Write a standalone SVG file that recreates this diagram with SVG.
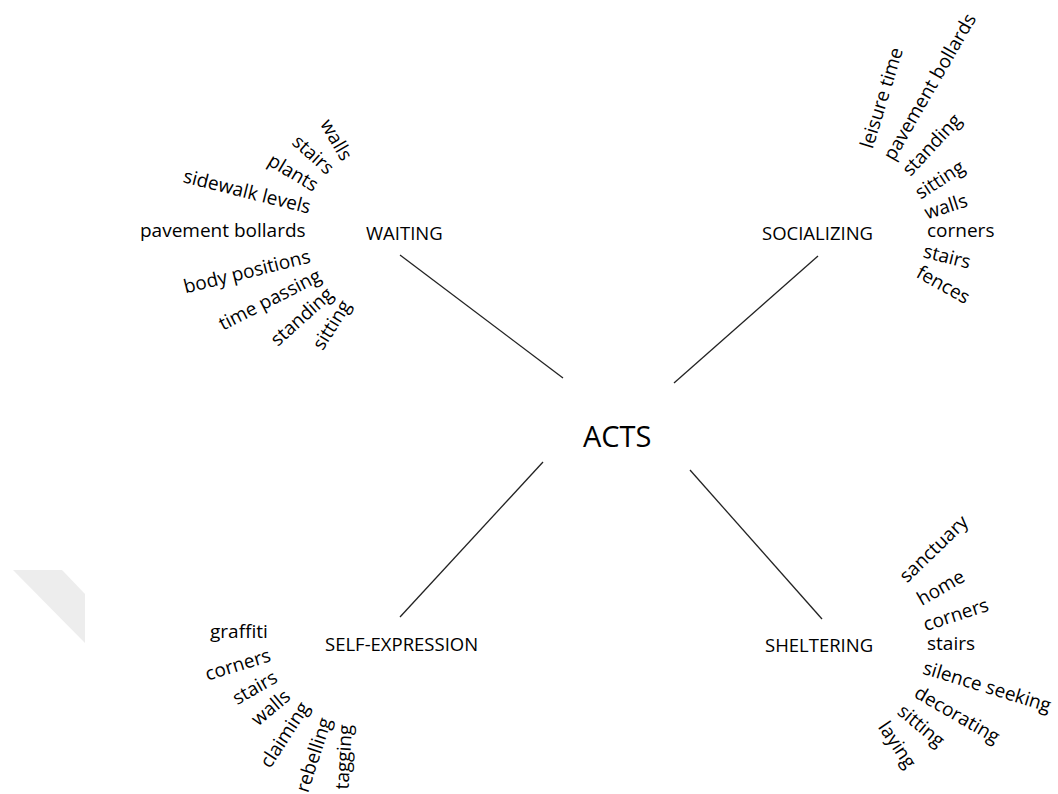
<svg xmlns="http://www.w3.org/2000/svg" width="1058" height="794" viewBox="0 0 1058 794">
  <style>
    text { font-family: "Open Sans", "Noto Sans", sans-serif; fill: #000; }
    .hub { font-size: 29px; }
    .cat { font-size: 18.5px; }
    .w { font-size: 19px; text-anchor: middle; }
    .wl { font-size: 19px; }
    .link { stroke: #222; stroke-width: 1.3; fill: none; }
  </style>
  <rect width="1058" height="794" fill="#ffffff"/>

  <!-- faint corner mark on the left edge -->
  <polygon points="13,570 62,570 85,594 85,643" fill="#ededed"/>

  <g id="connectors">
    <line class="link" x1="400" y1="255" x2="563" y2="378"/>
    <line class="link" x1="818" y1="256" x2="674" y2="383"/>
    <line class="link" x1="543" y1="462" x2="400" y2="617"/>
    <line class="link" x1="690" y1="470" x2="822" y2="619"/>
  </g>

  <g id="acts">
    <text class="hub" x="583" y="447">ACTS</text>
  </g>

  <g id="waiting">
    <text class="cat" x="366" y="240">WAITING</text>
    <text class="w" transform="translate(336 140) rotate(60)" dy="0.32em">walls</text>
    <text class="w" transform="translate(313 155) rotate(42)" dy="0.32em">stairs</text>
    <text class="w" transform="translate(293 173) rotate(31)" dy="0.32em">plants</text>
    <text class="w" transform="translate(247 192) rotate(14)" dy="0.32em">sidewalk levels</text>
    <text class="wl" x="140" y="237">pavement bollards</text>
    <text class="w" transform="translate(247 272) rotate(-14)" dy="0.32em">body positions</text>
    <text class="w" transform="translate(270 300) rotate(-27)" dy="0.32em">time passing</text>
    <text class="w" transform="translate(302 317) rotate(-42)" dy="0.32em">standing</text>
    <text class="w" transform="translate(332 325) rotate(-58)" dy="0.32em">sitting</text>
  </g>

  <g id="socializing">
    <text class="cat" x="762" y="240">SOCIALIZING</text>
    <text class="w" transform="translate(882 98) rotate(-73)" dy="0.32em">leisure time</text>
    <text class="w" transform="translate(930 87) rotate(-60)" dy="0.32em">pavement bollards</text>
    <text class="w" transform="translate(932 145) rotate(-47)" dy="0.32em">standing</text>
    <text class="w" transform="translate(940 180) rotate(-33)" dy="0.32em">sitting</text>
    <text class="w" transform="translate(946 207) rotate(-18)" dy="0.32em">walls</text>
    <text class="wl" x="927" y="237">corners</text>
    <text class="w" transform="translate(947 257) rotate(14)" dy="0.32em">stairs</text>
    <text class="w" transform="translate(943 285) rotate(29)" dy="0.32em">fences</text>
  </g>

  <g id="self-expression">
    <text class="cat" x="325" y="651">SELF-EXPRESSION</text>
    <text class="wl" x="210" y="638">graffiti</text>
    <text class="w" transform="translate(238 665) rotate(-17)" dy="0.32em">corners</text>
    <text class="w" transform="translate(255 688) rotate(-30)" dy="0.32em">stairs</text>
    <text class="w" transform="translate(271 708) rotate(-40)" dy="0.32em">walls</text>
    <text class="w" transform="translate(285 735) rotate(-57)" dy="0.32em">claiming</text>
    <text class="w" transform="translate(314 755) rotate(-72)" dy="0.32em">rebelling</text>
    <text class="w" transform="translate(344 757) rotate(-87)" dy="0.32em">tagging</text>
  </g>

  <g id="sheltering">
    <text class="cat" x="765" y="652">SHELTERING</text>
    <text class="w" transform="translate(934 549) rotate(-44)" dy="0.32em">sanctuary</text>
    <text class="w" transform="translate(941 588) rotate(-30)" dy="0.32em">home</text>
    <text class="w" transform="translate(956 615) rotate(-18)" dy="0.32em">corners</text>
    <text class="wl" x="927" y="650">stairs</text>
    <text class="w" transform="translate(987 687) rotate(17)" dy="0.32em">silence seeking</text>
    <text class="w" transform="translate(957 715) rotate(30)" dy="0.32em">decorating</text>
    <text class="w" transform="translate(921 726) rotate(40)" dy="0.32em">sitting</text>
    <text class="w" transform="translate(897 745) rotate(56)" dy="0.32em">laying</text>
  </g>
</svg>
